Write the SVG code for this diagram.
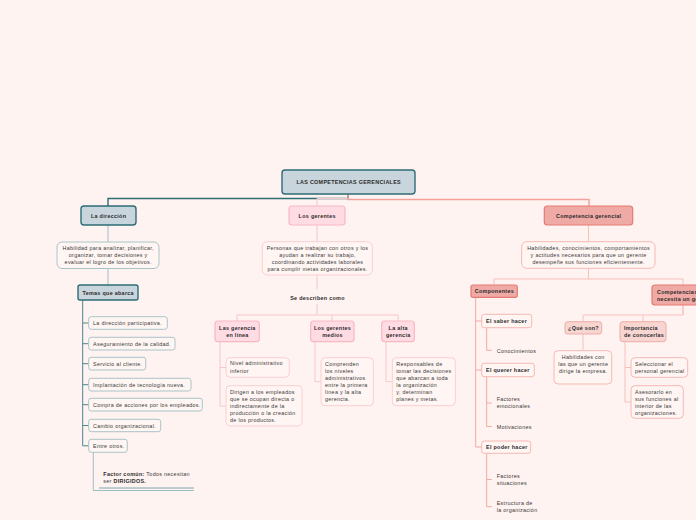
<svg xmlns="http://www.w3.org/2000/svg" width="696" height="520" viewBox="0 0 696 520">
<style>
text{font-family:"Liberation Sans",Arial,sans-serif;font-size:5.4px;fill:#3a3a3a;letter-spacing:0.3px}
.b{font-weight:bold;fill:#2b2b2b}
.c{text-anchor:middle}
.tealBox{fill:#c9d5dc;stroke:#2e6c76;stroke-width:1.4}
.tealSub{fill:#fff6f4;stroke:#a9c4c8;stroke-width:1}
.pinkBox{fill:#ffdce4;stroke:#f7b8c2;stroke-width:1.2}
.pinkSub{fill:#fff6f4;stroke:#f9cfd0;stroke-width:1}
.salBox{fill:#efaaa5;stroke:#e57a73;stroke-width:1.2}
.salSub{fill:#fff6f4;stroke:#f6b8b3;stroke-width:1}
.salLight{fill:#f7d6d2;stroke:#f0aaa4;stroke-width:1}
.ct{fill:none;stroke:#2e6c76;stroke-width:1.4}
.cl{fill:none;stroke:#9fbec3;stroke-width:1}
.cm{fill:none;stroke:#4b858e;stroke-width:1}
.cp{fill:none;stroke:#f8c6ca;stroke-width:1}
.cs{fill:none;stroke:#f3a19b;stroke-width:1.4}
.cs1{fill:none;stroke:#f3a8a2;stroke-width:1}
.cs2{fill:none;stroke:#f7c0bb;stroke-width:1}
</style>
<rect width="696" height="520" fill="#fff3f1"/>
<g id="connectors">
<path class="ct" d="M348,194 V198.5 H108 V206"/>
<path class="cp" d="M348,198.5 H317 V206" stroke-width="1.4"/>
<path class="cs" d="M348,194 V199.5 H589 V206"/>
<path class="cl" d="M108,225 V242 M108,268 V285"/>
<path class="cm" d="M82.7,300 V445.8 H88.7 M82.7,323 H88.7 M82.7,343.7 H88.7 M82.7,363.7 H88.7 M82.7,384.7 H88.7 M82.7,404.7 H88.7 M82.7,425.5 H88.7"/>
<path class="cl" d="M93.3,452.3 V490.5 H194"/>
<path fill="none" stroke="#7fa6ab" stroke-width="1" d="M99,488 H194"/>
<path class="cp" d="M317,225 V242 M317,275 V289 M317,304 V315 M237,315 H398 M237,315 V321 M332,315 V321 M398,315 V321"/>
<path class="cp" d="M220,341.7 V406 H226 M220,367.5 H226"/>
<path class="cp" d="M315,341.7 V381.7 H321"/>
<path class="cp" d="M386,341.7 V381.7 H392"/>
<path class="cs2" d="M588.5,225 V242 M588.5,268 V279 M494,279 H683 M494,279 V285 M683,279 V285"/>
<path class="cs1" d="M475.7,297.3 V447 H481.7 M475.7,321 H481.7 M475.7,370 H481.7"/>
<path class="cs1" d="M486.7,327.7 V350.3 H491.7"/>
<path class="cs1" d="M486.7,376.7 V426.5 H491.7 M486.7,403 H491.7"/>
<path class="cs1" d="M486.7,453.3 V506.7 H491.7 M486.7,479.5 H491.7"/>
<path class="cs1" d="M683,305 V315"/>
<path class="cs2" d="M583,315 H683 M583,315 V321.7 M643,315 V321.7"/>
<path class="cs2" d="M583,334 V350.7"/>
<path class="cs2" d="M625,341.7 V402 H631 M625,367.5 H631"/>
</g>
<g id="root">
<rect class="tealBox" x="282" y="170" width="133" height="24" rx="3" stroke-width="2"/>
<text class="b c" x="348.7" y="184" font-size="5.6">LAS COMPETENCIAS GERENCIALES</text>
</g>
<g id="la-direccion">
<rect class="tealBox" x="81" y="206" width="55" height="19" rx="3"/>
<text class="b c" x="108.6" y="217.5" font-size="5.8">La dirección</text>
</g>
<g id="la-direccion-desc">
<rect class="tealSub" x="57" y="242" width="102" height="26.5" rx="5"/>
<text class="c" x="108.2" y="249.5">Habilidad para analizar, planificar,</text>
<text class="c" x="108.2" y="256.7">organizar, tomar decisiones y</text>
<text class="c" x="108.2" y="263.9">evaluar el logro de los objetivos.</text>
</g>
<g id="temas">
<rect class="tealBox" x="78" y="285" width="60" height="15" rx="2"/>
<text class="b c" x="108.2" y="294.5">Temas que abarca</text>
</g>
<g id="t1"><rect class="tealSub" x="88.7" y="316.7" width="78.6" height="12.6" rx="2.5"/><text x="93" y="325">La dirección participativa.</text></g>
<g id="t2"><rect class="tealSub" x="88.7" y="337.3" width="86.3" height="12.7" rx="2.5"/><text x="93" y="345.7">Aseguramiento de la calidad.</text></g>
<g id="t3"><rect class="tealSub" x="88.7" y="357.3" width="57" height="12.7" rx="2.5"/><text x="93" y="365.7">Servicio al cliente.</text></g>
<g id="t4"><rect class="tealSub" x="88.7" y="378.3" width="102.3" height="12.7" rx="2.5"/><text x="93" y="386.7">Implantación de tecnología nueva.</text></g>
<g id="t5"><rect class="tealSub" x="88.7" y="398.3" width="113.6" height="12.7" rx="2.5"/><text x="93" y="406.7">Compra de acciones por los empleados.</text></g>
<g id="t6"><rect class="tealSub" x="88.7" y="419.3" width="72" height="12.4" rx="2.5"/><text x="93" y="427.5">Cambio organizacional.</text></g>
<g id="t7"><rect class="tealSub" x="88.7" y="439.3" width="38.6" height="13" rx="2.5"/><text x="93" y="447.8">Entre otros.</text></g>
<g id="factor">
<text x="103.3" y="476.3"><tspan class="b">Factor común:</tspan> Todos necesitan</text>
<text x="103.3" y="482.8">ser <tspan class="b">DIRIGIDOS.</tspan></text>
</g>
<g id="los-gerentes">
<rect class="pinkBox" x="289" y="206" width="56" height="19" rx="3"/>
<text class="b c" x="317.2" y="217.5" font-size="5.8">Los gerentes</text>
</g>
<g id="los-gerentes-desc">
<rect class="pinkSub" x="262.3" y="241.7" width="110" height="33.3" rx="5"/>
<text class="c" x="317.5" y="249.5">Personas que trabajan con otros y los</text>
<text class="c" x="317.5" y="256.8">ayudan a realizar su trabajo,</text>
<text class="c" x="317.5" y="264">coordinando actividades laborales</text>
<text class="c" x="317.5" y="271.2">para cumplir metas organizacionales.</text>
</g>
<g id="se-describen">
<text class="b c" x="317.5" y="300.3">Se describen como</text>
</g>
<g id="gerencia-linea">
<rect class="pinkBox" x="215" y="321" width="44.3" height="20.7" rx="3"/>
<text class="b c" x="237.4" y="330.2">Las gerencia</text>
<text class="b c" x="237.4" y="337">en línea</text>
</g>
<g id="linea-1">
<rect class="pinkSub" x="226" y="357.7" width="63.3" height="19.6" rx="4"/>
<text x="230" y="365.2">Nivel administrativo</text>
<text x="230" y="372.6">inferior</text>
</g>
<g id="linea-2">
<rect class="pinkSub" x="226" y="385.7" width="76" height="40.3" rx="4"/>
<text x="230" y="393.6">Dirigen a los empleados</text>
<text x="230" y="400.7">que se ocupan directa o</text>
<text x="230" y="407.9">indirectamente de la</text>
<text x="230" y="415">producción o la creación</text>
<text x="230" y="422.2">de los productos.</text>
</g>
<g id="gerentes-medios">
<rect class="pinkBox" x="310.7" y="321" width="43.3" height="20.7" rx="3"/>
<text class="b c" x="332.5" y="330.2">Los gerentes</text>
<text class="b c" x="332.5" y="337">medios</text>
</g>
<g id="medios-1">
<rect class="pinkSub" x="321" y="357.7" width="52.3" height="48" rx="4"/>
<text x="325" y="366">Comprenden</text>
<text x="325" y="373">los niveles</text>
<text x="325" y="380">administrativos</text>
<text x="325" y="387">entre la primera</text>
<text x="325" y="394">línea y la alta</text>
<text x="325" y="401">gerencia.</text>
</g>
<g id="alta-gerencia">
<rect class="pinkBox" x="381.7" y="321" width="32.6" height="20.7" rx="3"/>
<text class="b c" x="398.2" y="330.2">La alta</text>
<text class="b c" x="398.2" y="337">gerencia</text>
</g>
<g id="alta-1">
<rect class="pinkSub" x="392.3" y="357.7" width="63" height="48" rx="4"/>
<text x="396.3" y="366">Responsables de</text>
<text x="396.3" y="373">tomar las decisiones</text>
<text x="396.3" y="380">que abarcan a toda</text>
<text x="396.3" y="387">la organización</text>
<text x="396.3" y="394">y, determinan</text>
<text x="396.3" y="401">planes y metas.</text>
</g>
<g id="competencia">
<rect class="salBox" x="544.3" y="206" width="88.4" height="19" rx="3"/>
<text class="b c" x="588.7" y="217.5" font-size="5.8">Competencia gerencial</text>
</g>
<g id="competencia-desc">
<rect class="salSub" x="521.7" y="241.7" width="133.3" height="26.6" rx="5"/>
<text class="c" x="588.6" y="249.5">Habilidades, conocimientos, comportamientos</text>
<text class="c" x="588.6" y="256.7">y actitudes necesarios para que un gerente</text>
<text class="c" x="588.6" y="263.9">desempeñe sus funciones eficientemente.</text>
</g>
<g id="componentes">
<rect class="salBox" x="471" y="285" width="46.3" height="12.3" rx="2"/>
<text class="b c" x="494.4" y="293">Componentes</text>
</g>
<g id="saber"><rect class="salSub" x="481.7" y="314.3" width="50" height="13.4" rx="2.5"/><text class="b" x="486" y="323">El saber hacer</text></g>
<g id="conocimientos"><text x="496.7" y="353">Conocimientos</text></g>
<g id="querer"><rect class="salSub" x="481.7" y="363.3" width="52.6" height="13.4" rx="2.5"/><text class="b" x="486" y="372">El querer hacer</text></g>
<g id="emocionales"><text x="496.7" y="401">Factores</text><text x="496.7" y="407.7">emocionales</text></g>
<g id="motivaciones"><text x="496.7" y="428.6">Motivaciones</text></g>
<g id="poder"><rect class="salSub" x="481.7" y="441" width="49" height="12.3" rx="2.5"/><text class="b" x="486" y="449.2">El poder hacer</text></g>
<g id="situaciones"><text x="496.7" y="478">Factores</text><text x="496.7" y="485.3">situaciones</text></g>
<g id="estructura"><text x="496.7" y="505.3">Estructura de</text><text x="496.7" y="512">la organización</text></g>
<g id="competencias-que">
<rect class="salBox" x="652" y="285" width="62" height="20" rx="3"/>
<text class="b" x="657" y="293.8">Competencias que</text>
<text class="b" x="657" y="300.6">necesita un gerente</text>
</g>
<g id="que-son">
<rect class="salLight" x="565" y="321.7" width="36.7" height="12.3" rx="2.5"/>
<text class="b c" x="583.5" y="329.8">¿Qué son?</text>
</g>
<g id="que-son-desc">
<rect class="salSub" x="554" y="350.7" width="57.7" height="33.3" rx="4"/>
<text class="c" x="583.2" y="359.2">Habilidades con</text>
<text class="c" x="583.2" y="366">las que un gerente</text>
<text class="c" x="583.2" y="372.7">dirige la empresa.</text>
</g>
<g id="importancia">
<rect class="salLight" x="620" y="321.7" width="46" height="20" rx="3"/>
<text class="b" x="624" y="330.2">Importancia</text>
<text class="b" x="624" y="337">de conocerlas</text>
</g>
<g id="imp-1">
<rect class="salSub" x="631" y="357.7" width="56.7" height="19.6" rx="4"/>
<text x="635" y="366">Seleccionar el</text>
<text x="635" y="372.7">personal gerencial</text>
</g>
<g id="imp-2">
<rect class="salSub" x="631" y="385.7" width="52.3" height="32.6" rx="4"/>
<text x="635" y="393.6">Asesorarlo en</text>
<text x="635" y="400.8">sus funciones al</text>
<text x="635" y="408">interior de las</text>
<text x="635" y="415.2">organizaciones.</text>
</g>
</svg>
